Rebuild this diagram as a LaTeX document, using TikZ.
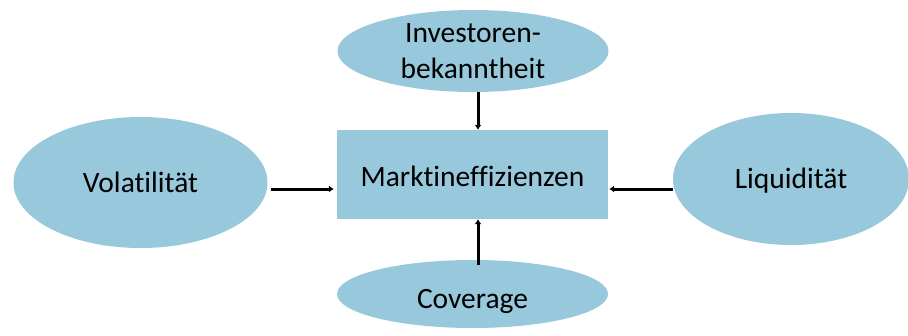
\documentclass[tikz,border=0pt]{standalone}
\usepackage{fontspec}
\setmainfont{Carlito}[Ligatures=NoCommon]
\usetikzlibrary{shapes.geometric,arrows.meta}
\definecolor{boxblue}{RGB}{151,200,219}
\newcommand{\lowered}[2]{\raisebox{-#1}[\height][\depth]{#2}}
\begin{document}
\begin{tikzpicture}[x=1pt,y=-1pt,
  blob/.style={ellipse,fill=boxblue,draw=none,inner sep=0pt,font=\fontsize{29.5}{36}\selectfont,align=center},
  rectbox/.style={rectangle,fill=boxblue,draw=none,inner sep=0pt,font=\fontsize{29.5}{36}\selectfont},
  arr/.style={line width=3pt,-{Latex[length=5pt,width=7pt]}}]
\useasboundingbox (0,0) rectangle (908,335);
\clip (0,0) rectangle (908,335);
\node[rectbox,minimum width=271pt,minimum height=89pt] (mark) at (472.5,174.5) {\lowered{1.5pt}{Marktineffizienzen}};
\node[blob,minimum width=271pt,minimum height=82pt] (inv) at (473,51) {Investoren-\\bekanntheit};
\node[blob,minimum width=254pt,minimum height=131pt] (vol) at (140.5,182.5) {Volatilität};
\node[blob,minimum width=236pt,minimum height=132pt] (liq) at (791,179) {\lowered{2pt}{Liquidität}};
\node[blob,minimum width=271pt,minimum height=68pt] (cov) at (472.5,294) {\lowered{7pt}{Coverage}};
\draw[arr] ([xshift=5pt]inv.south) -- ([xshift=5.5pt]mark.north);
\draw[arr] ([xshift=3pt,yshift=-6.5pt]vol.east) -- ([xshift=-3pt,yshift=-14.5pt]mark.west);
\draw[arr] ([yshift=-10pt]liq.west) -- ([xshift=1pt,yshift=-14.5pt]mark.east);
\draw[arr] ([xshift=5.5pt,yshift=-5pt]cov.north) -- ([xshift=5.5pt]mark.south);
\end{tikzpicture}
\end{document}
